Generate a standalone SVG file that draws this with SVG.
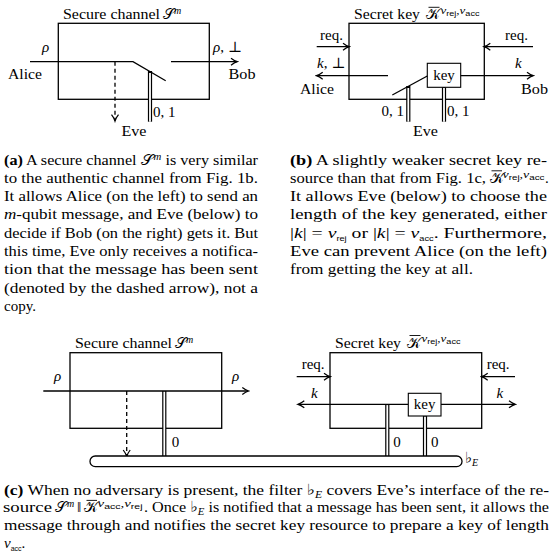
<svg xmlns="http://www.w3.org/2000/svg" width="553" height="555" viewBox="0 0 553 555">
<style>
text{font-family:"Liberation Serif","DejaVu Serif",serif;font-size:15px;fill:#000}
.i{font-style:italic}
.b{font-weight:bold}
.sup{font-size:10px}
.ss{font-family:"Liberation Sans","DejaVu Sans",sans-serif;font-size:7px;font-style:normal}
.bar{stroke:#000;stroke-width:0.9}
.box{fill:none;stroke:#000;stroke-width:1.3}
.ln{fill:none;stroke:#000;stroke-width:1.3}
.arr{fill:none;stroke:#000;stroke-width:1.3;marker-end:url(#ah)}
.dash{fill:none;stroke:#000;stroke-width:1.3;stroke-dasharray:4 3;marker-end:url(#ah)}
.dbo{stroke:#000;stroke-width:4.2}
.dbi{stroke:#fff;stroke-width:1.8}
.kbox{fill:#fff;stroke:#000;stroke-width:1.1}
</style>
<defs>
<marker id="ah" markerWidth="10" markerHeight="10" refX="8" refY="5" orient="auto" markerUnits="userSpaceOnUse">
<path d="M2,1.5 Q5.5,4.2 8.3,5 Q5.5,5.8 2,8.5" fill="none" stroke="#000" stroke-width="1.2"/>
</marker>
</defs>

<!-- (a) secure channel -->
<g id="secure-channel-a">
<rect class="box" x="58.3" y="23.3" width="151" height="76"/>
<text x="63" y="19.3" textLength="97" lengthAdjust="spacingAndGlyphs">Secure channel</text>
<text x="163" y="19.3">𝒮</text>
<text class="sup i" x="174" y="14">m</text>
</g>
<g id="labels-a">
<text class="i" x="42" y="52.3">ρ</text>
<text x="213" y="52.3"><tspan class="i">ρ</tspan>, ⊥</text>
<text x="8" y="79.3" textLength="34" lengthAdjust="spacingAndGlyphs">Alice</text>
<text x="228.5" y="79.3" textLength="27" lengthAdjust="spacingAndGlyphs">Bob</text>
<text x="121.5" y="135.5" textLength="25" lengthAdjust="spacingAndGlyphs">Eve</text>
<text x="153" y="117">0, 1</text>
</g>
<g id="connectors-a">
<polyline class="ln" points="30,61.7 133,61.7 165.7,80.7"/>
<line class="arr" x1="171" y1="61.7" x2="237" y2="61.7"/>
<line class="dash" x1="115" y1="61.7" x2="115" y2="120.7"/>
<line class="dbo" x1="150" y1="71" x2="150" y2="121.7"/>
<line class="dbi" x1="150" y1="73" x2="150" y2="121.7"/>
</g>

<!-- (b) secret key -->
<g id="secret-key-b">
<rect class="box" x="349" y="23.3" width="135.3" height="76"/>
<text x="354" y="19.3" textLength="66" lengthAdjust="spacingAndGlyphs">Secret key</text>
<text x="426" y="19.3">𝒦</text>
<line class="bar" x1="428.5" y1="7.3" x2="439.5" y2="7.3"/>
<text class="sup i" x="440.5" y="14" textLength="39" lengthAdjust="spacingAndGlyphs">ν<tspan class="ss" baseline-shift="-2">rej</tspan>,ν<tspan class="ss" baseline-shift="-2">acc</tspan></text>
</g>
<g id="key-b">
<rect class="kbox" x="427.3" y="63.3" width="33.4" height="24"/>
<text x="444" y="79.5" text-anchor="middle">key</text>
</g>
<g id="labels-b">
<text x="320" y="40">req.</text>
<text x="505" y="40">req.</text>
<text x="317" y="68.3"><tspan class="i">k</tspan>, ⊥</text>
<text class="i" x="515" y="68.3">k</text>
<text x="300" y="94" textLength="34" lengthAdjust="spacingAndGlyphs">Alice</text>
<text x="521" y="94" textLength="27" lengthAdjust="spacingAndGlyphs">Bob</text>
<text x="413" y="135.5" textLength="25" lengthAdjust="spacingAndGlyphs">Eve</text>
<text x="404" y="116" text-anchor="end">0, 1</text>
<text x="447" y="116">0, 1</text>
</g>
<g id="connectors-b">
<line class="arr" x1="316.7" y1="46.7" x2="349" y2="46.7"/>
<line class="arr" x1="533" y1="46.7" x2="484.3" y2="46.7"/>
<line class="arr" x1="388" y1="75.7" x2="316.7" y2="75.7"/>
<line class="ln" x1="392.3" y1="95" x2="427.3" y2="76"/>
<line class="arr" x1="460.7" y1="75.7" x2="533" y2="75.7"/>
<line class="dbo" x1="408.3" y1="86" x2="408.3" y2="121.7"/>
<line class="dbi" x1="408.3" y1="88" x2="408.3" y2="121.7"/>
<line class="dbo" x1="444" y1="87.3" x2="444" y2="121.7"/>
<line class="dbi" x1="444" y1="87.9" x2="444" y2="121.7"/>
</g>

<!-- captions a and b -->
<g id="caption-a">
<text x="4" y="164.5" textLength="254" lengthAdjust="spacingAndGlyphs"><tspan class="b">(a)</tspan> A secure channel 𝒮<tspan class="sup i" baseline-shift="5">m</tspan> is very similar</text>
<text x="4" y="182.8" textLength="254" lengthAdjust="spacingAndGlyphs">to the authentic channel from Fig. 1b.</text>
<text x="4" y="201.1" textLength="254" lengthAdjust="spacingAndGlyphs">It allows Alice (on the left) to send an</text>
<text x="4" y="219.4" textLength="254" lengthAdjust="spacingAndGlyphs"><tspan class="i">m</tspan>-qubit message, and Eve (below) to</text>
<text x="4" y="237.7" textLength="254" lengthAdjust="spacingAndGlyphs">decide if Bob (on the right) gets it. But</text>
<text x="4" y="256" textLength="254" lengthAdjust="spacingAndGlyphs">this time, Eve only receives a notifica-</text>
<text x="4" y="274.3" textLength="254" lengthAdjust="spacingAndGlyphs">tion that the message has been sent</text>
<text x="4" y="292.6" textLength="254" lengthAdjust="spacingAndGlyphs">(denoted by the dashed arrow), not a</text>
<text x="4" y="310.9" textLength="32" lengthAdjust="spacingAndGlyphs">copy.</text>
</g>
<g id="caption-b">
<text x="290" y="164.5" textLength="257" lengthAdjust="spacingAndGlyphs"><tspan class="b">(b)</tspan> A slightly weaker secret key re-</text>
<text x="290" y="182.8" textLength="196" lengthAdjust="spacingAndGlyphs">source than that from Fig. 1c,</text>
<text x="489.5" y="182.8">𝒦</text>
<line class="bar" x1="491.5" y1="170.8" x2="502" y2="170.8"/>
<text class="sup i" x="502.5" y="177.5" textLength="42" lengthAdjust="spacingAndGlyphs">ν<tspan class="ss" baseline-shift="-2">rej</tspan>,ν<tspan class="ss" baseline-shift="-2">acc</tspan></text>
<text x="545" y="182.8">.</text>
<text x="290" y="201.1" textLength="257" lengthAdjust="spacingAndGlyphs">It allows Eve (below) to choose the</text>
<text x="290" y="219.4" textLength="257" lengthAdjust="spacingAndGlyphs">length of the key generated, either</text>
<text x="290" y="237.7" textLength="257" lengthAdjust="spacingAndGlyphs">|<tspan class="i">k</tspan>| = <tspan class="i">ν</tspan><tspan class="ss" font-size="9" baseline-shift="-3">rej</tspan> or |<tspan class="i">k</tspan>| = <tspan class="i">ν</tspan><tspan class="ss" font-size="9" baseline-shift="-3">acc</tspan>. Furthermore,</text>
<text x="290" y="256" textLength="257" lengthAdjust="spacingAndGlyphs">Eve can prevent Alice (on the left)</text>
<text x="290" y="274.3" textLength="183" lengthAdjust="spacingAndGlyphs">from getting the key at all.</text>
</g>

<!-- (c) bottom -->
<g id="secure-channel-c">
<rect class="box" x="70" y="352.7" width="151.7" height="75.6"/>
<text x="75" y="348.3" textLength="97" lengthAdjust="spacingAndGlyphs">Secure channel</text>
<text x="175" y="348.3">𝒮</text>
<text class="sup i" x="186" y="343">m</text>
</g>
<g id="secret-key-c">
<rect class="box" x="330" y="352.7" width="151.7" height="75.6"/>
<text x="335" y="347.5" textLength="66" lengthAdjust="spacingAndGlyphs">Secret key</text>
<text x="407" y="347.5">𝒦</text>
<line class="bar" x1="409.5" y1="335.5" x2="420.5" y2="335.5"/>
<text class="sup i" x="421.5" y="342.2" textLength="39" lengthAdjust="spacingAndGlyphs">ν<tspan class="ss" baseline-shift="-2">rej</tspan>,ν<tspan class="ss" baseline-shift="-2">acc</tspan></text>
</g>
<g id="connectors-c">
<line class="arr" x1="43.3" y1="391" x2="248.3" y2="391"/>
<line class="dash" x1="126.7" y1="391" x2="126.7" y2="456"/>
<line class="dbo" x1="164.3" y1="391" x2="164.3" y2="456.5"/>
<line class="dbi" x1="164.3" y1="391.8" x2="164.3" y2="456.5"/>
<line class="arr" x1="296.7" y1="376.7" x2="330" y2="376.7"/>
<line class="arr" x1="515" y1="376.7" x2="481.7" y2="376.7"/>
<line class="arr" x1="408.3" y1="404.3" x2="298.3" y2="404.3"/>
<line class="arr" x1="441" y1="404.3" x2="515" y2="404.3"/>
<line class="dbo" x1="387.3" y1="404.3" x2="387.3" y2="456.5"/>
<line class="dbi" x1="387.3" y1="405.1" x2="387.3" y2="456.5"/>
<line class="dbo" x1="425" y1="416" x2="425" y2="456.5"/>
<line class="dbi" x1="425" y1="416.6" x2="425" y2="456.5"/>
</g>
<g id="key-c">
<rect class="kbox" x="408.3" y="393.3" width="32.7" height="22.7"/>
<text x="424.7" y="409" text-anchor="middle">key</text>
</g>
<g id="filter-c">
<rect x="90" y="456" width="372" height="10.7" rx="5.3" ry="5.3" fill="#fff" stroke="#000" stroke-width="1.3"/>
<text x="465" y="463">♭<tspan class="i" font-size="10" baseline-shift="-3">E</tspan></text>
</g>
<g id="labels-c">
<text class="i" x="54" y="381.3">ρ</text>
<text class="i" x="232" y="381.3">ρ</text>
<text x="171.7" y="446.5">0</text>
<text x="301.7" y="369">req.</text>
<text x="486.7" y="369">req.</text>
<text class="i" x="311" y="398">k</text>
<text class="i" x="496.5" y="398">k</text>
<text x="393.3" y="446.5">0</text>
<text x="431" y="446.5">0</text>
</g>

<g id="caption-c">
<text x="4" y="494.6" textLength="545" lengthAdjust="spacingAndGlyphs"><tspan class="b">(c)</tspan> When no adversary is present, the filter ♭<tspan class="i" font-size="10" baseline-shift="-3">E</tspan> covers Eve’s interface of the re-</text>
<text x="3" y="512.4" textLength="49" lengthAdjust="spacingAndGlyphs">source</text>
<text x="55" y="512.4">𝒮</text>
<text class="sup i" x="67" y="507">m</text>
<text x="77" y="512.4">‖</text>
<text x="84" y="512.4">𝒦</text>
<line class="bar" x1="86.5" y1="500.4" x2="97" y2="500.4"/>
<text class="sup i" x="97.5" y="507" textLength="45" lengthAdjust="spacingAndGlyphs">ν<tspan class="ss" baseline-shift="-2">acc</tspan>,ν<tspan class="ss" baseline-shift="-2">rej</tspan></text>
<text x="144" y="512.4" textLength="405" lengthAdjust="spacingAndGlyphs">. Once ♭<tspan class="i" font-size="10" baseline-shift="-3">E</tspan> is notified that a message has been sent, it allows the</text>
<text x="4" y="530.2" textLength="545" lengthAdjust="spacingAndGlyphs">message through and notifies the secret key resource to prepare a key of length</text>
<text x="4" y="548"><tspan class="i">ν</tspan><tspan class="ss" font-size="9" baseline-shift="-3">acc</tspan>.</text>
</g>
</svg>
